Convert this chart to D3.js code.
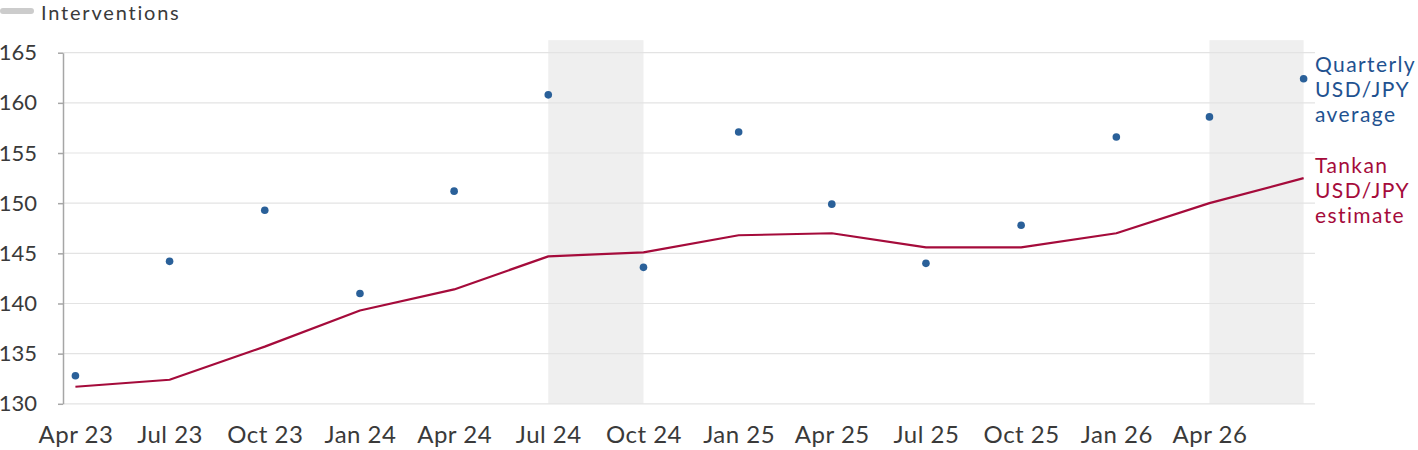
<!DOCTYPE html>
<html><head><meta charset="utf-8">
<script src="https://cdn.jsdelivr.net/npm/d3@7"></script>
<style>
html,body{margin:0;padding:0;background:#fff;}
svg{display:block;font-family:Lato,"Open Sans",sans-serif;}
</style></head>
<body><svg id="c" width="1418" height="450"></svg>
<script>
const quarterDates = ["2023-04-01","2023-07-01","2023-10-01","2024-01-01","2024-04-01","2024-07-01","2024-10-01","2025-01-01","2025-04-01","2025-07-01","2025-10-01","2026-01-01","2026-04-01","2026-07-01"];
const tickLabels = ["Apr 23","Jul 23","Oct 23","Jan 24","Apr 24","Jul 24","Oct 24","Jan 25","Apr 25","Jul 25","Oct 25","Jan 26","Apr 26"];
const quarterlyAverage = [132.8,144.2,149.3,141.0,151.2,160.8,143.6,157.1,149.9,144.0,147.8,156.6,158.6,162.4];
const tankanEstimate = [131.7,132.4,135.7,139.3,141.4,144.7,145.1,146.8,147.0,145.6,145.6,147.0,150.0,152.5];
const interventionStarts = ["2024-07-01","2026-04-01"];
const interventionEnds = ["2024-10-01","2026-07-01"];
const yTicks = [130,135,140,145,150,155,160,165];
const blueLabelLines = ["Quarterly","USD/JPY","average"];
const redLabelLines = ["Tankan","USD/JPY","estimate"];

(function(){
const parse = d3.utcParse("%Y-%m-%d");
const dates = quarterDates.map(parse);
const svg = d3.select("#c");
const mLeft = 63, mRight = 1315, mTop = 52.7, mBottom = 403.8;

const x = d3.scaleUtc()
  .domain([d3.utcDay.offset(dates[0], -12), d3.utcDay.offset(dates[dates.length-1], 11)])
  .range([mLeft, mRight]);
const y = d3.scaleLinear().domain([130,165]).range([mBottom, mTop]);

// intervention shading
svg.append("g").selectAll("rect").data(interventionStarts).join("rect")
  .attr("x", (d)=>x(parse(d)))
  .attr("width", (d,i)=>x(parse(interventionEnds[i])) - x(parse(d)))
  .attr("y", y(166.25))
  .attr("height", y(130) - y(166.25))
  .attr("fill", "#efefef");

// grid
svg.append("g").selectAll("line").data(yTicks).join("line")
  .attr("x1", mLeft).attr("x2", mRight)
  .attr("y1", d=>y(d)).attr("y2", d=>y(d))
  .attr("stroke", "#e3e3e3").attr("stroke-width", 1.2);

// y axis
const ya = svg.append("g").attr("transform", `translate(${mLeft},0)`)
  .call(d3.axisLeft(y).tickValues(yTicks).tickSize(5).tickSizeOuter(0).tickPadding(21));
ya.select(".domain").attr("stroke", "#a6a6a6").attr("stroke-width", 1.5);
ya.selectAll(".tick line").attr("stroke", "#a6a6a6").attr("stroke-width", 1.5);
ya.selectAll(".tick text").attr("font-size", 22).attr("fill", "#3a3a3a")
  .attr("font-family", "Lato, sans-serif");

// x axis
const xa = svg.append("g").attr("transform", `translate(0,${mBottom})`)
  .call(d3.axisBottom(x).tickValues(dates.slice(0, tickLabels.length))
    .tickFormat((d,i)=>tickLabels[i]).tickSize(0).tickPadding(22.5));
xa.select(".domain").remove();
xa.selectAll(".tick text").attr("font-size", 24).attr("fill", "#3a3a3a")
  .attr("letter-spacing", 0.5)
  .attr("font-family", "Lato, sans-serif");

// Tankan line
svg.append("path")
  .datum(tankanEstimate)
  .attr("d", d3.line().x((d,i)=>x(dates[i])).y(d=>y(d)))
  .attr("fill", "none").attr("stroke", "#a50b3b").attr("stroke-width", 2.2)
  .attr("stroke-linejoin", "round");

// Dots
svg.append("g").selectAll("circle").data(quarterlyAverage).join("circle")
  .attr("cx", (d,i)=>x(dates[i])).attr("cy", d=>y(d)).attr("r", 3.8)
  .attr("fill", "#2a6099");

// right labels
function label(lines, y0, color) {
  const t = svg.append("text").attr("x", 1315).attr("y", y0)
    .attr("font-size", 21).attr("letter-spacing", 1.4).attr("fill", color);
  lines.forEach((s,i)=>t.append("tspan").attr("x",1315).attr("dy", i?25.2:0).text(s));
}
label(blueLabelLines, 72, "#1f5290");
label(redLabelLines, 173, "#a50b3b");

// legend
svg.append("line").attr("x1", 3).attr("x2", 31).attr("y1", 11).attr("y2", 11)
  .attr("stroke", "#cccccc").attr("stroke-width", 6).attr("stroke-linecap", "round");
svg.append("text").attr("x", 41).attr("y", 20).attr("font-size", 20).attr("letter-spacing", 1.8)
  .attr("fill", "#3a3a3a")
  .text("Interventions");
})();
</script></body></html>
